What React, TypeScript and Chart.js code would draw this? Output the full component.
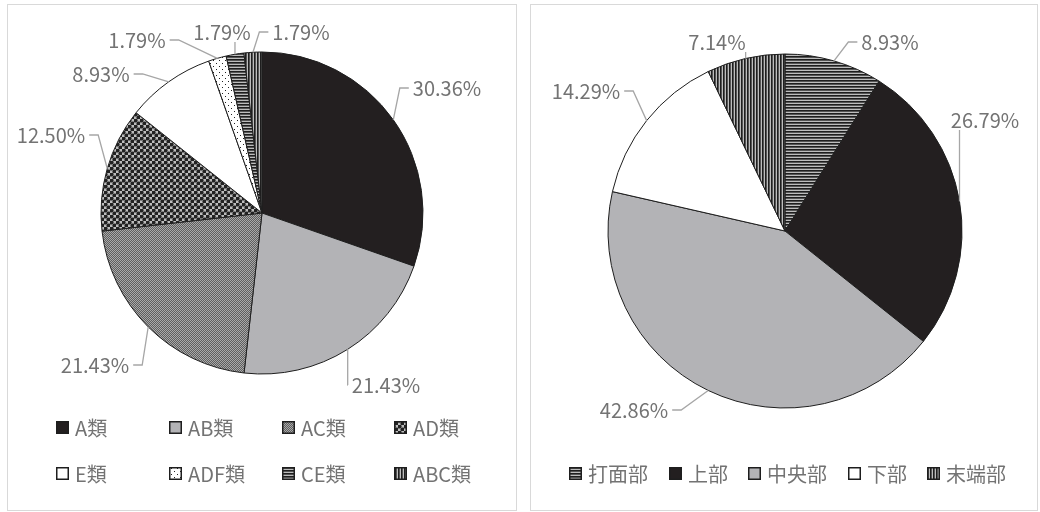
import React, { useEffect, useRef } from "react";
import { Chart, registerables } from "chart.js";
Chart.register(...registerables);

// ---------- data ----------
const leftCategories = ["A類", "AB類", "AC類", "AD類", "E類", "ADF類", "CE類", "ABC類"];
const leftValues = [30.36, 21.43, 21.43, 12.5, 8.93, 1.79, 1.79, 1.79];
const rightCategories = ["打面部", "上部", "中央部", "下部", "末端部"];
const rightValues = [8.93, 26.79, 42.86, 14.29, 7.14];

// ---------- layout (label offsets from pie centre, legend box positions) ----------
const leftLabelOffsets = [[185, -125], [124, 172], [-167, 152], [-211, -78], [-161, -139], [-125, -173], [-40, -181], [39, -181]];
const rightLabelOffsets = [[105, -189], [200, -111], [-151, 179], [-199, -140], [-68, -189]];
const leftLegendPos = [[48, 416], [161, 416], [274, 416], [386, 416], [48, 462], [161, 462], [274, 462], [386, 462]];
const rightLegendPos = [[38, 462], [138, 462], [217, 462], [317, 462], [396, 462]];

const FONT = '20px "Noto Sans CJK JP", "Noto Sans", sans-serif';
const TEXT = "#737373";
const EDGE = "#1e1e1e";

function pat(w: number, h: number, draw: (g: CanvasRenderingContext2D) => void) {
  const c = document.createElement("canvas");
  c.width = w; c.height = h;
  const g = c.getContext("2d")!;
  draw(g);
  return g.createPattern(c, "repeat")!;
}

function makeFills() {
  const black = "#231f20";
  const light = "#b3b3b6";
  const fineDots = pat(2, 2, (g) => {
    g.fillStyle = "#a9a9a9"; g.fillRect(0, 0, 2, 2);
    g.fillStyle = "#5e5e5e"; g.fillRect(0, 0, 1, 1); g.fillRect(1, 1, 1, 1);
  });
  const diamonds = pat(6, 6, (g) => {
    g.fillStyle = "#bdbdbd"; g.fillRect(0, 0, 6, 6);
    g.fillStyle = "#222";
    g.beginPath(); g.arc(1.5, 1.5, 2.1, 0, Math.PI * 2); g.fill();
    g.beginPath(); g.arc(4.5, 4.5, 2.1, 0, Math.PI * 2); g.fill();
  });
  const sparseDots = pat(6, 6, (g) => {
    g.fillStyle = "#ffffff"; g.fillRect(0, 0, 6, 6);
    g.fillStyle = "#222"; g.fillRect(1, 1, 1, 1); g.fillRect(4, 4, 1, 1);
  });
  const hLines = pat(3, 3, (g) => {
    g.fillStyle = "#bdbdbd"; g.fillRect(0, 0, 3, 3);
    g.fillStyle = "#1e1e1e"; g.fillRect(0, 0, 3, 1);
    g.fillStyle = "#555"; g.fillRect(0, 1, 3, 1);
  });
  const vLines = pat(3, 3, (g) => {
    g.fillStyle = "#bdbdbd"; g.fillRect(0, 0, 3, 3);
    g.fillStyle = "#1e1e1e"; g.fillRect(0, 0, 1, 3);
    g.fillStyle = "#555"; g.fillRect(1, 0, 1, 3);
  });
  return { black, light, fineDots, diamonds, sparseDots, hLines, vLines, white: "#ffffff" };
}

function labelPlugin(offsets: number[][]) {
  return {
    id: "outLabels",
    afterDatasetsDraw(chart: any) {
      const ctx = chart.ctx as CanvasRenderingContext2D;
      const meta = chart.getDatasetMeta(0);
      const data = chart.data.datasets[0].data as number[];
      ctx.save();
      ctx.font = FONT;
      ctx.textAlign = "center";
      ctx.textBaseline = "middle";
      meta.data.forEach((arc: any, i: number) => {
        const p = arc.getProps(["x", "y", "startAngle", "endAngle", "outerRadius"], true);
        const mid = (p.startAngle + p.endAngle) / 2;
        const px = p.x + Math.cos(mid) * p.outerRadius;
        const py = p.y + Math.sin(mid) * p.outerRadius;
        const cx = p.x + offsets[i][0];
        const cy = p.y + offsets[i][1];
        const text = data[i].toFixed(2) + "%";
        const w = ctx.measureText(text).width;
        const h = 16;
        ctx.beginPath();
        ctx.strokeStyle = "#a6a6a6";
        ctx.lineWidth = 1.3;
        if (px >= cx - w / 2 && px <= cx + w / 2) {
          const sy = py < cy ? cy - h / 2 - 2 : cy + h / 2 + 2;
          ctx.moveTo(px, sy);
          ctx.lineTo(px, py);
        } else {
          const dir = px > cx ? 1 : -1;
          const sx = cx + dir * (w / 2 + 4);
          const ex = sx + dir * Math.min(9, Math.abs(px - sx));
          ctx.moveTo(sx, cy);
          ctx.lineTo(ex, cy);
          ctx.lineTo(px, py);
        }
        ctx.stroke();
        ctx.fillStyle = TEXT;
        ctx.fillText(text, cx, cy);
      });
      ctx.restore();
    },
  };
}

function legendPlugin(pos: number[][]) {
  return {
    id: "boxLegend",
    afterDraw(chart: any) {
      const ctx = chart.ctx as CanvasRenderingContext2D;
      const ds = chart.data.datasets[0];
      const labels = chart.data.labels as string[];
      ctx.save();
      ctx.font = FONT;
      ctx.textAlign = "left";
      ctx.textBaseline = "middle";
      labels.forEach((lab, i) => {
        const [bx, by] = pos[i];
        ctx.fillStyle = ds.backgroundColor[i];
        ctx.fillRect(bx, by, 13, 13);
        ctx.strokeStyle = EDGE;
        ctx.lineWidth = 1.5;
        ctx.strokeRect(bx + 0.75, by + 0.75, 11.5, 11.5);
        ctx.fillStyle = TEXT;
        ctx.fillText(lab, bx + 19, by + 7);
      });
      ctx.restore();
    },
  };
}

function makePie(canvas: HTMLCanvasElement, labels: string[], values: number[], colors: any[], radius: number,
  padding: any, offsets: number[][], legendPos: number[][]) {
  return new Chart(canvas, {
    type: "pie",
    data: {
      labels,
      datasets: [{ data: values, backgroundColor: colors, borderColor: EDGE, borderWidth: 1 }],
    },
    options: {
      responsive: false,
      animation: false,
      radius,
      layout: { padding },
      plugins: { legend: { display: false }, tooltip: { enabled: false } },
    },
    plugins: [labelPlugin(offsets), legendPlugin(legendPos)],
  } as any);
}

export default function App() {
  const leftRef = useRef<HTMLCanvasElement>(null);
  const rightRef = useRef<HTMLCanvasElement>(null);

  useEffect(() => {
    const f = makeFills();
    const leftColors = [f.black, f.light, f.fineDots, f.diamonds, f.white, f.sparseDots, f.hLines, f.vLines];
    const rightColors = [f.hLines, f.black, f.light, f.white, f.vLines];
    const c1 = makePie(leftRef.current!, leftCategories, leftValues, leftColors, 161,
      { left: 60, right: 60, top: 30, bottom: 119 }, leftLabelOffsets, leftLegendPos);
    const c2 = makePie(rightRef.current!, rightCategories, rightValues, rightColors, 177,
      { left: 42, right: 40, top: 20, bottom: 73 }, rightLabelOffsets, rightLegendPos);
    return () => { c1.destroy(); c2.destroy(); };
  }, []);

  const box: React.CSSProperties = {
    position: "absolute", top: 4, height: 507, boxSizing: "border-box",
    border: "1px solid #d9d9d9", background: "#fff",
  };
  return (
    <div style={{ position: "absolute", left: 0, top: 0, width: 1040, height: 512, background: "#fff" }}>
      <div style={{ ...box, left: 7, width: 510 }}>
        <canvas ref={leftRef} width={508} height={505} style={{ display: "block", width: 508, height: 505 }} />
      </div>
      <div style={{ ...box, left: 530, width: 508 }}>
        <canvas ref={rightRef} width={506} height={505} style={{ display: "block", width: 506, height: 505 }} />
      </div>
    </div>
  );
}
